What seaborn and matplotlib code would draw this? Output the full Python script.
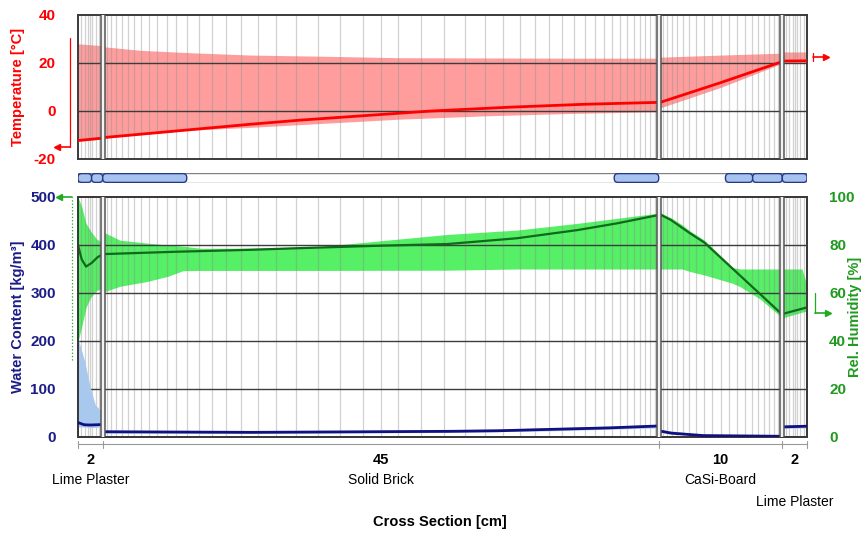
import numpy as np
import pandas as pd
import matplotlib
matplotlib.use("Agg")
import matplotlib.pyplot as plt
import matplotlib.transforms as mtrans
from matplotlib.patches import FancyBboxPatch, Rectangle
import seaborn as sns

sns.set_theme(style="white")
plt.rcParams["font.family"] = ["Liberation Sans", "DejaVu Sans"]
plt.rcParams["axes.unicode_minus"] = False

# ---------------- wall assembly (cm) ----------------
layer_names = ["Lime Plaster", "Solid Brick", "CaSi-Board", "Lime Plaster"]
layer_thickness = [2, 45, 10, 2]

# ---------------- temperature [°C], one list per layer ----------------
temp_x = [[0, 1, 2], [2, 8, 14, 18, 23, 28.6, 35, 41, 47], [47, 52, 57], [57, 59]]
temp_now = [[-12.3, -11.8, -11.3], [-11.1, -8.3, -5.5, -3.8, -2.0, 0.0, 1.6, 2.8, 3.6],
            [3.4, 11.8, 20.6], [20.8, 20.9]]
temp_band_x = [[0, 1, 2], [2, 5, 9, 14, 20, 26, 33, 40, 47], [47, 52, 57], [57, 59]]
temp_max = [[28.0, 27.6, 27.2], [26.8, 25.3, 24.3, 23.3, 22.8, 22.2, 22.1, 22.0, 22.0],
            [22.4, 23.3, 24.1], [24.6, 24.6]]
temp_min = [[-12.6, -12.1, -11.6], [-11.4, -9.9, -8.0, -6.8, -5.1, -3.4, -2.0, -1.0, -0.3],
            [1.1, 9.8, 19.9], [20.3, 20.4]]

# ---------------- relative humidity [%] ----------------
rh_x = [[0, 0.3, 0.65, 1.1, 1.6, 2], [2, 8, 14, 18, 24.4, 29.9, 35.5, 40.4, 43.6, 47],
        [47, 48, 49.5, 50.7, 57], [57, 57.4, 59]]
rh_now = [[80, 74, 71, 72.5, 75, 76], [76.2, 77.2, 78.0, 78.7, 79.7, 80.4, 82.8, 86.2, 89.0, 92.5],
          [93.0, 90.4, 85.0, 81.0, 51.0], [51.2, 51.8, 54.0]]
rh_band_x = [[0, 0.3, 0.65, 1.0, 1.5, 2],
             [2, 3.4, 5.6, 7.3, 8.5, 10, 14, 19.5, 29.9, 35.5, 40.4, 47],
             [47, 48, 48.9, 49.5, 50.7, 53.0, 53.6, 55.2, 56.8, 57],
             [57, 57.4, 58.6, 59]]
rh_max = [[100, 96, 89, 86, 82.5, 81],
          [85.5, 82.0, 80.8, 80.0, 79.5, 78.6, 78.7, 79.3, 84.4, 86.2, 89.0, 93.3],
          [93.8, 91.3, 88.4, 86.0, 82.0, 70.6, 70, 70, 70, 70],
          [70, 70, 70, 63]]
rh_min = [[39.6, 46, 54, 58, 61, 62],
          [60.3, 62.8, 64.8, 67.0, 69.3, 69.4, 69.4, 69.4, 69.5, 70, 70, 70],
          [70, 70, 70, 69, 67.5, 64, 62.6, 57.5, 50.5, 49.3],
          [49.5, 50.2, 52, 52.5]]

# ---------------- water content [kg/m³] ----------------
w_x = [[0, 0.5, 1, 2], [2, 14, 30, 34, 38.4, 43, 47], [47, 48, 50.6, 57], [57, 59]]
w_now = [[30, 25.5, 25, 26], [11, 9.7, 11.8, 13, 16, 19, 23], [13, 8, 3, 1.5], [21, 22.5]]
w_band_x = [[0, 0.55, 1.0, 1.4, 1.9, 2], [2, 14, 30, 38.4, 47], [47, 50.6, 57], [57, 59]]
w_max = [[206, 157, 102, 67, 53, 50], [14, 12.5, 14.5, 19, 26], [16, 5, 3], [25, 26]]
w_min = [[21, 21, 20, 20, 21, 21], [8, 7.5, 9.5, 13, 19], [10, 1.5, 0.5], [18, 19]]

# ---------------- boundary conditions ----------------
ext_temp, ext_temp_range = -15.0, (-15.0, 30.4)
int_temp, int_temp_range = 22.4, (20.7, 24.0)
ext_rh, ext_rh_range = 100.0, (32.0, 100.0)
int_rh, int_rh_range = 51.7, (51.7, 60.0)

# monitor / source segments shown in the strip between the panels (cm)
strip_segments = [(0, 1.1), (1.1, 2), (2, 8.8), (43.4, 47), (52.4, 54.6), (54.6, 57), (57, 59)]

# ---------------- colours ----------------
C_TEMP, C_TEMP_BAND = "#ff0000", "#ff9d9d"
C_RH, C_RH_BAND, C_RH_TXT = "#0f6a1a", "#55f065", "#1f9a1f"
C_W, C_W_BAND, C_W_TXT = "#101080", "#a9c8ee", "#1c1c88"
C_GRID, C_MESH, C_FRAME = "#3c3c3c", "#8c8c8c", "#3a3a3a"

edges = np.concatenate([[0], np.cumsum(layer_thickness)])
total = edges[-1]


def graded_mesh(a, b, first, ratio, cap):
    """Symmetric element grid, fine at the layer faces and coarse inside."""
    half = (b - a) / 2
    pos, step = [0.0], first
    while pos[-1] + step < half - 0.3 * step:
        pos.append(pos[-1] + step)
        step = min(step * ratio, cap)
    pos = np.array(pos[1:])
    return np.unique(np.concatenate([a + pos, b - pos, [(a + b) / 2]]))


mesh = np.concatenate([
    graded_mesh(0, 2, 0.28, 1.0, 0.28),
    graded_mesh(2, 47, 0.34, 1.09, 1.85),
    graded_mesh(47, 57, 0.32, 1.1, 0.62),
    graded_mesh(57, 59, 0.28, 1.0, 0.28),
])


def long_frame(xs, ys):
    rows = []
    for k, (xx, yy) in enumerate(zip(xs, ys)):
        rows += [{"layer": k, "x": a, "v": b} for a, b in zip(xx, yy)]
    return pd.DataFrame(rows)


def draw_band(ax, xs, lo, hi, color, z):
    for xx, l, h in zip(xs, lo, hi):
        ax.fill_between(xx, l, h, color=color, lw=0, zorder=z)


def draw_mesh(ax, z):
    ax.vlines(mesh, 0, 1, transform=ax.get_xaxis_transform(), colors=C_MESH,
              alpha=0.4, lw=0.9, zorder=z)


def draw_boundaries(ax, z):
    g = 0.16
    for b in edges[1:-1]:
        ax.axvspan(b - g, b + g, color="#f3f3f3", lw=0, zorder=z)
        for xb in (b - g, b + g):
            ax.axvline(xb, color="#555555", lw=1.1, zorder=z + 1)


def style_frame(ax):
    for s in ax.spines.values():
        s.set_color(C_FRAME)
        s.set_linewidth(1.4)
        s.set_visible(True)


W, H = 868, 535


def box(x0, y0, x1, y1):
    return [x0 / W, 1 - y1 / H, (x1 - x0) / W, (y1 - y0) / H]


fig = plt.figure(figsize=(8.68, 5.35), dpi=100)
fig.patch.set_facecolor("white")
ax_t = fig.add_axes(box(78, 15, 807, 159))
ax_s = fig.add_axes(box(78, 173, 807, 183))
ax_w = fig.add_axes(box(78, 197, 807, 437))
ax_rh = ax_w.twinx()
ax_w.set_zorder(3)
ax_rh.set_zorder(2)
ax_w.patch.set_visible(False)
ax_rh.patch.set_visible(True)
ax_rh.patch.set_facecolor("white")

label_font = dict(fontsize=10.5, fontweight="bold")
TICK_SIZE = 11

# ---------------- temperature panel ----------------
draw_band(ax_t, temp_band_x, temp_min, temp_max, C_TEMP_BAND, 1)
draw_mesh(ax_t, 2)
for yv in (0, 20):
    ax_t.axhline(yv, color=C_GRID, lw=1.0, zorder=3)
sns.lineplot(data=long_frame(temp_x, temp_now), x="x", y="v", units="layer", estimator=None,
             sort=False, color=C_TEMP, lw=2.0, ax=ax_t, zorder=4)
draw_boundaries(ax_t, 6)
ax_t.set_xlim(0, total)
ax_t.set_ylim(-20, 40)
ax_t.set_xticks([])
ax_t.set_yticks([-20, 0, 20, 40])
ax_t.set_xlabel("")
ax_t.set_ylabel("Temperature [°C]", color=C_TEMP, **label_font)
ax_t.yaxis.set_label_coords(-0.073, 0.5)
ax_t.tick_params(axis="y", length=0, pad=16, labelcolor=C_TEMP, labelsize=TICK_SIZE)
for t in ax_t.get_yticklabels():
    t.set_fontweight("bold")
style_frame(ax_t)

# ---------------- strip between the panels ----------------
ax_s.set_xlim(0, total)
ax_s.set_ylim(0, 1)
ax_s.axis("off")
ax_s.add_patch(Rectangle((0, 0.02), total, 0.96, fc="white", ec="#808080", lw=1.0))
for a, b in strip_segments:
    ax_s.add_patch(FancyBboxPatch((a, 0.06), b - a, 0.88,
                                  boxstyle="round,pad=0,rounding_size=0.3",
                                  mutation_aspect=1.25, fc="#a6c3f0", ec="#27388a", lw=1.0))

# ---------------- humidity / water content panel ----------------
draw_band(ax_rh, rh_band_x, rh_min, rh_max, C_RH_BAND, 1)
draw_mesh(ax_rh, 2)
for yv in (20, 40, 60, 80):
    ax_rh.axhline(yv, color=C_GRID, lw=1.0, zorder=3)
sns.lineplot(data=long_frame(rh_x, rh_now), x="x", y="v", units="layer", estimator=None,
             sort=False, color=C_RH, lw=1.6, ax=ax_rh, zorder=4)

draw_band(ax_w, w_band_x, w_min, w_max, C_W_BAND, 1)
sns.lineplot(data=long_frame(w_x, w_now), x="x", y="v", units="layer", estimator=None,
             sort=False, color=C_W, lw=2.0, ax=ax_w, zorder=4)
draw_boundaries(ax_w, 6)

ax_w.set_xlim(0, total)
ax_rh.set_xlim(0, total)
ax_w.set_ylim(0, 500)
ax_rh.set_ylim(0, 100)
ax_w.set_xticks([])
ax_w.set_yticks(range(0, 501, 100))
ax_rh.set_yticks(range(0, 101, 20))
ax_w.set_xlabel("")
ax_rh.set_xlabel("")
ax_w.set_ylabel("Water Content [kg/m³]", color=C_W_TXT, **label_font)
ax_w.yaxis.set_label_coords(-0.073, 0.5)
ax_rh.set_ylabel("Rel. Humidity [%]", color=C_RH_TXT, **label_font)
ax_rh.yaxis.set_label_position("right")
ax_rh.yaxis.set_label_coords(1.056, 0.5)
ax_w.tick_params(axis="y", length=0, pad=16, labelcolor=C_W_TXT, labelsize=TICK_SIZE)
ax_rh.tick_params(axis="y", length=0, pad=16, labelcolor=C_RH_TXT, labelsize=TICK_SIZE)
for t in ax_w.get_yticklabels() + ax_rh.get_yticklabels():
    t.set_fontweight("bold")
style_frame(ax_w)
style_frame(ax_rh)

# ---------------- boundary-condition markers ----------------
def bc_marker(ax, xa, rng, val, color, outward, dotted=False):
    tr = mtrans.blended_transform_factory(ax.transAxes, ax.transData)
    ax.plot([xa, xa], rng, color=color, lw=0.9, ls=":" if dotted else "-",
            transform=tr, clip_on=False)
    x_end = xa + outward * 0.018
    ax.plot([xa, x_end], [val, val], color=color, lw=1.2, transform=tr, clip_on=False)
    ax.plot([x_end], [val], marker="<" if outward < 0 else ">", ms=5, color=color,
            transform=tr, clip_on=False)


bc_marker(ax_t, -0.011, ext_temp_range, ext_temp, C_TEMP, -1)
bc_marker(ax_t, 1.008, int_temp_range, int_temp, C_TEMP, +1)
bc_marker(ax_rh, -0.008, ext_rh_range, ext_rh, "#22aa22", -1, dotted=True)
bc_marker(ax_rh, 1.011, int_rh_range, int_rh, "#22aa22", +1)

# ---------------- layer dimensions below the panel ----------------
trx = mtrans.blended_transform_factory(ax_w.transData, ax_w.transAxes)
ax_w.plot([0, total], [-0.029, -0.029], color="#9a9a9a", lw=0.8, transform=trx, clip_on=False)
for e in edges:
    ax_w.plot([e, e], [-0.015, -0.045], color="#9a9a9a", lw=0.8, transform=trx, clip_on=False)
centers = (edges[:-1] + edges[1:]) / 2
for k, (c, th, name) in enumerate(zip(centers, layer_thickness, layer_names)):
    ax_w.text(c, -0.096, f"{th:g}", transform=trx, ha="center", va="center",
              fontsize=10.5, fontweight="bold", color="black")
    y_name = -0.271 if k == len(layer_names) - 1 else -0.179
    ax_w.text(c, y_name, name, transform=trx, ha="center", va="center",
              fontsize=10, color="black")

fig.text(440 / W, 1 - 522 / H, "Cross Section [cm]", ha="center", va="center",
         fontsize=10.5, fontweight="bold", color="black")

fig.savefig("out.png", dpi=100, facecolor="white")
